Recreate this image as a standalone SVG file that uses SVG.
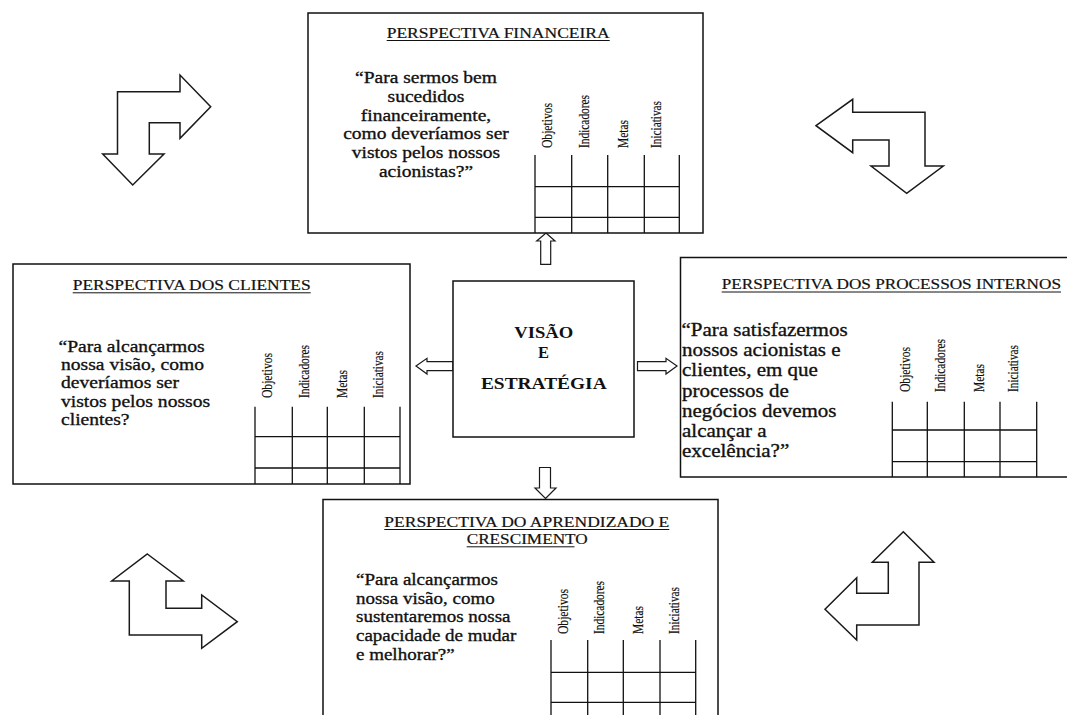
<svg xmlns="http://www.w3.org/2000/svg" width="1067" height="715" viewBox="0 0 1067 715">
<style>
.box{fill:#fff;stroke:#111;stroke-width:1.5}
.tbl{stroke:#111;stroke-width:1.3;fill:none}
.ul{stroke:#111;stroke-width:1}
.arr{fill:#fff;stroke:#1a1a1a;stroke-width:1.5;stroke-linejoin:miter}
.sarr{fill:#fff;stroke:#1a1a1a;stroke-width:1.2}
.title{font-family:"Liberation Serif","Times New Roman",serif;font-size:14.5px;fill:#111;stroke:#111;stroke-width:0.2}
.q{font-family:"Liberation Serif","Times New Roman",serif;fill:#111;stroke:#111;stroke-width:0.35}
.hd{font-family:"Liberation Serif","Times New Roman",serif;font-size:15px;fill:#111;stroke:#111;stroke-width:0.2}
.ctr{font-family:"Liberation Serif","Times New Roman",serif;font-weight:bold;font-size:16.5px;fill:#111}
</style>
<rect width="1067" height="715" fill="#fff"/>

<g id="connectors">
<polygon class="arr" points="117.5,91.7 180,91.7 180,75 210.7,106.7 180,138.3 180,122.7 149.3,122.7 149.3,154 164,154 132.7,185 102.7,154 117.5,154"/>
<polygon class="arr" points="816,125.7 852.7,99.3 852.7,112.3 925,112.3 925,166 943.3,166 906.7,193.3 871,166 889,166 889,140 852.7,140 852.7,152.7"/>
<polygon class="arr" points="147.3,554 183.3,581 166,581 166,608.3 201.7,608.3 201.7,595 237.3,621.7 201.7,648.3 201.7,635 129.3,635 129.3,581 111.7,581"/>
<polygon class="arr" points="903.3,531.7 934,562.3 919,562.3 919,625 856.7,625 856.7,640 825,609.3 856.7,577.7 856.7,593.3 888.3,593.3 888.3,562.3 872.3,562.3"/>
<polygon class="sarr" points="546,233 555,241 550.7,241 550.7,264.3 540.7,264.3 540.7,241 536.7,241"/>
<polygon class="sarr" points="416,366 427,358.3 427,361.7 453,361.7 453,370.7 427,370.7 427,374"/>
<polygon class="sarr" points="677,366 666,358.3 666,361.7 637.5,361.7 637.5,370.7 666,370.7 666,374"/>
<polygon class="sarr" points="545.5,498.5 556,488 550.5,488 550.5,467.5 539.5,467.5 539.5,488 535,488"/>
</g>

<g id="financeira">
<rect class="box" x="308" y="13" width="395" height="220"/>
<text class="title" x="386.7" y="37.7" textLength="223" lengthAdjust="spacingAndGlyphs">PERSPECTIVA FINANCEIRA</text>
<line class="ul" x1="386.7" y1="40.5" x2="609.7" y2="40.5"/>
<g class="q" font-size="17.5" text-anchor="middle" transform="translate(426,0) scale(1.114,1)">
<text x="0" y="83">“Para sermos bem</text>
<text x="0" y="101.8">sucedidos</text>
<text x="0" y="120.6">financeiramente,</text>
<text x="0" y="139.4">como deveríamos ser</text>
<text x="0" y="158.2">vistos pelos nossos</text>
<text x="0" y="177">acionistas?”</text>
</g>
<text class="hd" transform="translate(552,148) rotate(-90)" textLength="45" lengthAdjust="spacingAndGlyphs">Objetivos</text>
<text class="hd" transform="translate(588.5,148) rotate(-90)" textLength="53" lengthAdjust="spacingAndGlyphs">Indicadores</text>
<text class="hd" transform="translate(627.5,148) rotate(-90)" textLength="28" lengthAdjust="spacingAndGlyphs">Metas</text>
<text class="hd" transform="translate(661,148) rotate(-90)" textLength="47" lengthAdjust="spacingAndGlyphs">Iniciativas</text>
<path class="tbl" d="M535,155V233M571.7,155V233M607.7,155V233M644.3,155V233M679.3,155V233M535,186.7H679.3M535,217.3H679.3"/>
</g>

<g id="clientes">
<rect class="box" x="13" y="264" width="397" height="220"/>
<text class="title" x="72.7" y="290" textLength="238" lengthAdjust="spacingAndGlyphs">PERSPECTIVA DOS CLIENTES</text>
<line class="ul" x1="72.7" y1="292.8" x2="310.7" y2="292.8"/>
<g class="q" font-size="17.5" transform="translate(59,0) scale(1.12,1)">
<text x="-0.5" y="351.7">“Para alcançarmos</text>
<text x="1.8" y="370">nossa visão, como</text>
<text x="1.8" y="388.3">deveríamos ser</text>
<text x="1.8" y="406.6">vistos pelos nossos</text>
<text x="1.8" y="425">clientes?</text>
</g>
<text class="hd" transform="translate(272,398) rotate(-90)" textLength="45" lengthAdjust="spacingAndGlyphs">Objetivos</text>
<text class="hd" transform="translate(309,398) rotate(-90)" textLength="53" lengthAdjust="spacingAndGlyphs">Indicadores</text>
<text class="hd" transform="translate(346.5,398) rotate(-90)" textLength="28" lengthAdjust="spacingAndGlyphs">Metas</text>
<text class="hd" transform="translate(382.5,398) rotate(-90)" textLength="47" lengthAdjust="spacingAndGlyphs">Iniciativas</text>
<path class="tbl" d="M255,406.7V484M292.3,406.7V484M327.3,406.7V484M364.3,406.7V484M400,406.7V484M255,436.7H400M255,468H400"/>
</g>

<g id="processos">
<rect class="box" x="680.5" y="257.5" width="400" height="219.5"/>
<text class="title" x="721.7" y="289.3" textLength="339.3" lengthAdjust="spacingAndGlyphs">PERSPECTIVA DOS PROCESSOS INTERNOS</text>
<line class="ul" x1="721.7" y1="292" x2="1061" y2="292"/>
<g class="q" font-size="19" transform="translate(681.5,0) scale(1.105,1)">
<text x="0" y="336">“Para satisfazermos</text>
<text x="0.5" y="356.2">nossos acionistas e</text>
<text x="0.5" y="376.4">clientes, em que</text>
<text x="0.5" y="396.6">processos de</text>
<text x="0.5" y="416.8">negócios devemos</text>
<text x="0.5" y="437">alcançar a</text>
<text x="0.5" y="457.2">excelência?”</text>
</g>
<text class="hd" transform="translate(909.5,392) rotate(-90)" textLength="45" lengthAdjust="spacingAndGlyphs">Objetivos</text>
<text class="hd" transform="translate(944.5,392) rotate(-90)" textLength="53" lengthAdjust="spacingAndGlyphs">Indicadores</text>
<text class="hd" transform="translate(983.5,392) rotate(-90)" textLength="28" lengthAdjust="spacingAndGlyphs">Metas</text>
<text class="hd" transform="translate(1018,392) rotate(-90)" textLength="47" lengthAdjust="spacingAndGlyphs">Iniciativas</text>
<path class="tbl" d="M892.3,401.7V477M927.3,401.7V477M964.3,401.7V477M1000,401.7V477M1036.7,401.7V477M892.3,430H1036.7M892.3,461.7H1036.7"/>
</g>

<g id="aprendizado">
<rect class="box" x="323" y="499.5" width="395" height="230"/>
<text class="title" x="384.3" y="526.7" textLength="285" lengthAdjust="spacingAndGlyphs">PERSPECTIVA DO APRENDIZADO E</text>
<line class="ul" x1="384.3" y1="529.5" x2="669.3" y2="529.5"/>
<text class="title" x="466.7" y="544" textLength="121" lengthAdjust="spacingAndGlyphs">CRESCIMENTO</text>
<line class="ul" x1="466.7" y1="546.8" x2="574.5" y2="546.8"/>
<g class="q" font-size="17.5" transform="translate(356,0) scale(1.086,1)">
<text x="0" y="585">“Para alcançarmos</text>
<text x="0" y="603.8">nossa visão, como</text>
<text x="0" y="622.5">sustentaremos nossa</text>
<text x="0" y="641.3">capacidade de mudar</text>
<text x="0" y="660">e melhorar?”</text>
</g>
<text class="hd" transform="translate(568,634) rotate(-90)" textLength="45" lengthAdjust="spacingAndGlyphs">Objetivos</text>
<text class="hd" transform="translate(604,634) rotate(-90)" textLength="53" lengthAdjust="spacingAndGlyphs">Indicadores</text>
<text class="hd" transform="translate(643,634) rotate(-90)" textLength="28" lengthAdjust="spacingAndGlyphs">Metas</text>
<text class="hd" transform="translate(679,634) rotate(-90)" textLength="47" lengthAdjust="spacingAndGlyphs">Iniciativas</text>
<path class="tbl" d="M551,640V716M587.7,640V716M623.3,640V716M660,640V716M695.7,640V716M551,672.3H695.7M551,702.3H695.7"/>
</g>

<g id="visao">
<rect class="box" x="453" y="281" width="181" height="156"/>
<text class="ctr" x="543.8" y="338.3" text-anchor="middle" textLength="59" lengthAdjust="spacingAndGlyphs">VISÃO</text>
<text class="ctr" x="543.5" y="358.3" text-anchor="middle">E</text>
<text class="ctr" x="543.8" y="389.3" text-anchor="middle" textLength="125.7" lengthAdjust="spacingAndGlyphs">ESTRATÉGIA</text>
</g>
</svg>
